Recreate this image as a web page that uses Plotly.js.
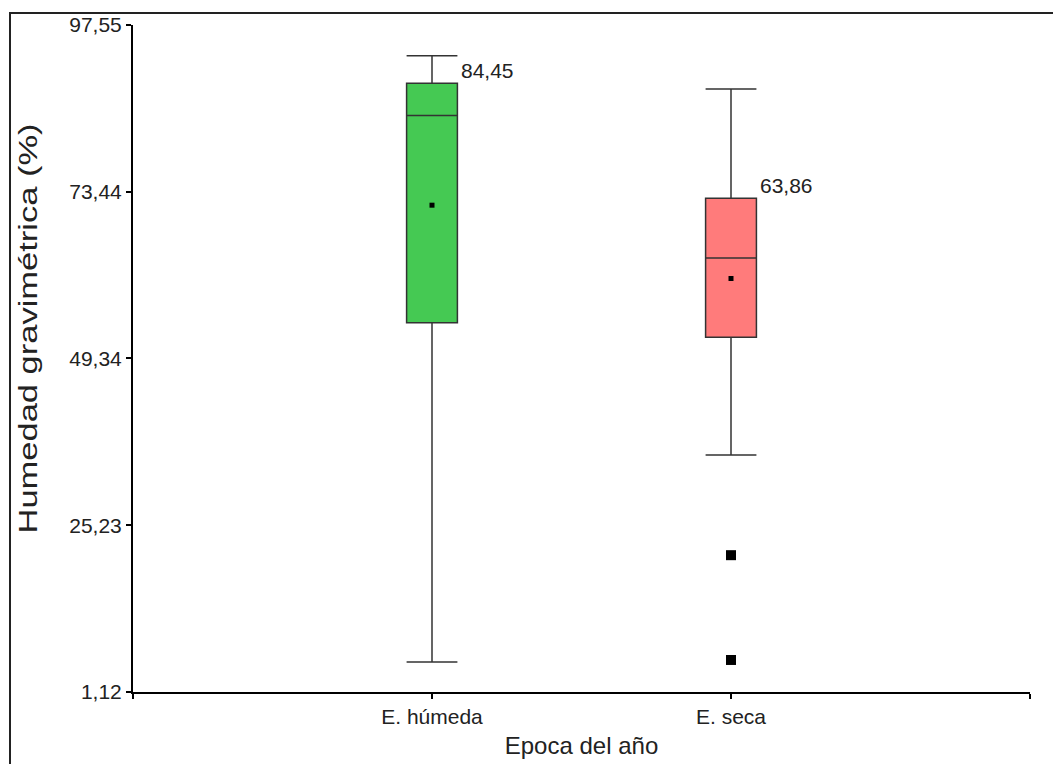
<!DOCTYPE html>
<html>
<head>
<meta charset="utf-8">
<script src="https://cdn.plot.ly/plotly-3.0.1.min.js"></script>
<style>
  html, body { margin: 0; padding: 0; background: #fff; }
  #frame { position: absolute; left: 9px; top: 12px; width: 1100px; height: 800px;
           border-left: 2px solid #222; border-top: 2px solid #222; pointer-events: none; }
  #chart { position: absolute; left: 0; top: 0; width: 1053px; height: 764px; }
</style>
</head>
<body>
<div id="chart"></div>
<div id="frame"></div>
<script>
// Soil moisture by season: box summaries
const categories = ['E. húmeda', 'E. seca'];
const lowerWhisker = [5.46, 35.4];
const q1Values = [54.5, 52.4];
const medianValues = [84.45, 63.86];
const q3Values = [89.12, 72.5];
const upperWhisker = [93.1, 88.3];
const meanValues = [71.5, 60.9];
const outlierCategory = ['E. seca', 'E. seca'];
const outlierValues = [20.9, 5.75];
const yTicks = [1.12, 25.23, 49.34, 73.44, 97.55];
const boxColors = ['#45C953', '#FF7B7B'];

const pos = c => categories.indexOf(c) + 1;
const boxWidth = 0.17;

const traces = categories.map((c, i) => ({
  type: 'box',
  x: [pos(c)],
  q1: [q1Values[i]],
  median: [medianValues[i]],
  q3: [q3Values[i]],
  lowerfence: [lowerWhisker[i]],
  upperfence: [upperWhisker[i]],
  width: boxWidth,
  whiskerwidth: 1,
  fillcolor: boxColors[i],
  line: { color: '#333', width: 1.5 },
  boxpoints: false,
  hoverinfo: 'skip',
  showlegend: false
}));

traces.push({
  type: 'scatter', mode: 'markers',
  x: categories.map(pos), y: meanValues,
  marker: { symbol: 'square', size: 5, color: '#000' },
  hoverinfo: 'skip', showlegend: false
});

traces.push({
  type: 'scatter', mode: 'markers',
  x: outlierCategory.map(pos), y: outlierValues,
  marker: { symbol: 'square', size: 10, color: '#000' },
  hoverinfo: 'skip', showlegend: false
});

const fmt = v => v.toFixed(2).replace('.', ',');

const annotations = categories.map((c, i) => ({
  x: pos(c) + boxWidth / 2, y: q3Values[i],
  xref: 'x', yref: 'y',
  xanchor: 'left', yanchor: 'bottom',
  xshift: 2, yshift: -1,
  text: fmt(medianValues[i]),
  showarrow: false,
  font: { family: 'Liberation Sans, Arial, sans-serif', size: 21, color: '#222' }
}));

const layout = {
  width: 1053, height: 764,
  margin: { l: 133, r: 23, t: 25, b: 72 },
  paper_bgcolor: 'rgba(0,0,0,0)', plot_bgcolor: '#fff',
  font: { family: 'Liberation Sans, Arial, sans-serif', size: 21, color: '#222' },
  xaxis: {
    range: [0, categories.length + 1],
    tickmode: 'array',
    tickvals: [0].concat(categories.map(pos), [categories.length + 1]),
    ticktext: [''].concat(categories, ['']),
    ticks: 'outside', ticklen: 5, tickwidth: 2, tickcolor: '#000',
    showline: true, linecolor: '#000', linewidth: 2,
    showgrid: false, zeroline: false,
    tickfont: { size: 21, color: '#222' },
    title: { text: 'Epoca del año', font: { size: 24, color: '#222' }, standoff: 10 }
  },
  yaxis: {
    range: [yTicks[0], yTicks[yTicks.length - 1]],
    tickmode: 'array',
    tickvals: yTicks,
    ticktext: yTicks.map(fmt),
    ticks: 'outside', ticklen: 5, tickwidth: 2, tickcolor: '#000',
    showline: true, linecolor: '#000', linewidth: 2,
    showgrid: false, zeroline: false,
    tickfont: { size: 21, color: '#222' },
    title: { text: 'Humedad gravimétrica (%)', font: { size: 25, color: '#222' }, standoff: 24 }
  },
  annotations: annotations
};

// The y-axis title is drawn elongated along its reading direction and raised a little
const titleStretch = 1.38;
const titleLift = 30;

Plotly.newPlot('chart', traces, layout, { displayModeBar: false, staticPlot: true }).then(gd => {
  const t = gd.querySelector('.ytitle');
  if (!t) return;
  const x = parseFloat(t.getAttribute('x'));
  const y = parseFloat(t.getAttribute('y'));
  t.setAttribute('transform',
    `rotate(-90,${x},${y}) translate(${titleLift},0) translate(${x},${y}) scale(${titleStretch},1) translate(${-x},${-y})`);
});
</script>
</body>
</html>
